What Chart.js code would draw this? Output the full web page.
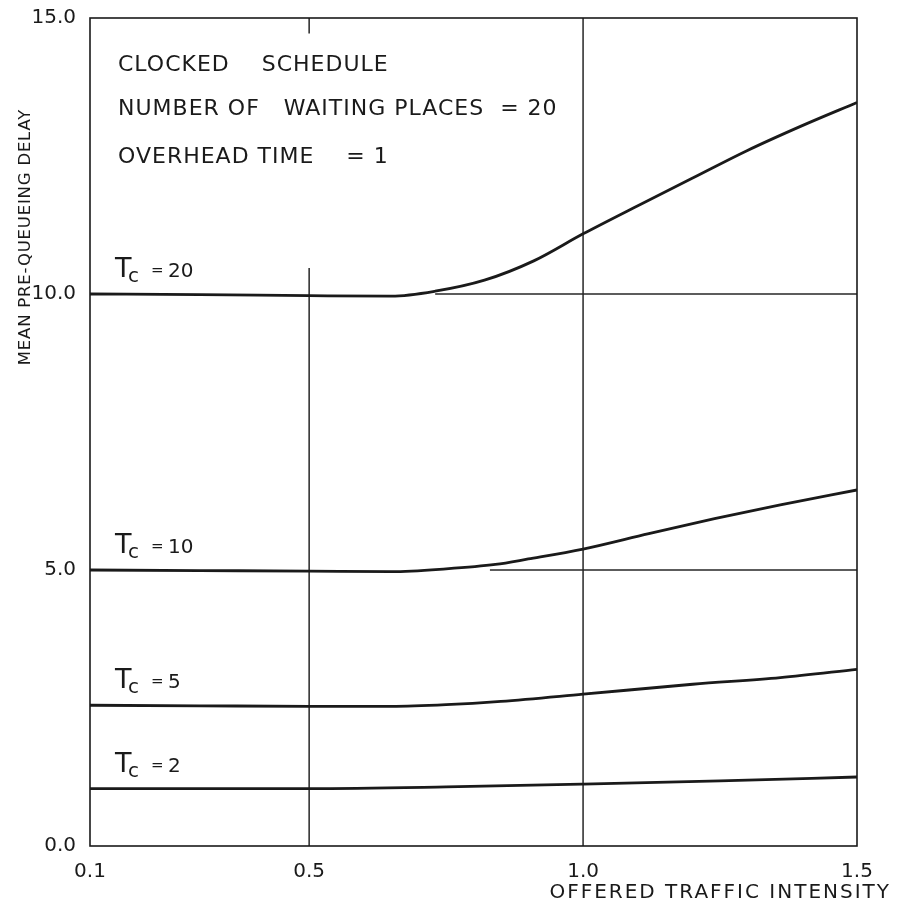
<!DOCTYPE html>
<html><head><meta charset="utf-8">
<script src="https://cdn.jsdelivr.net/npm/chart.js@4/dist/chart.umd.min.js"></script>
<style>html,body{margin:0;padding:0;background:#fff}canvas{display:block}</style>
</head><body>
<canvas id="c" width="909" height="912"></canvas>
<script>
// ---- data ----
const xTicks = [0.1, 0.5, 1.0, 1.5];
const yTicks = [0, 5, 10, 15];

const tcValues = [20, 10, 5, 2];

const tc20X = [0.1, 0.3, 0.5, 0.65, 0.73, 0.82, 0.91, 1.0, 1.1, 1.2, 1.3, 1.4, 1.5];
const tc20Y = [10.0, 9.99, 9.97, 9.96, 10.05, 10.25, 10.6, 11.09, 11.6, 12.1, 12.6, 13.05, 13.47];

const tc10X = [0.1, 0.3, 0.5, 0.65, 0.75, 0.84, 0.9, 1.0, 1.12, 1.24, 1.36, 1.5];
const tc10Y = [5.0, 4.99, 4.98, 4.97, 5.02, 5.1, 5.2, 5.38, 5.66, 5.93, 6.18, 6.45];

const tc5X = [0.1, 0.3, 0.5, 0.65, 0.75, 0.85, 1.0, 1.2, 1.36, 1.5];
const tc5Y = [2.55, 2.54, 2.53, 2.53, 2.56, 2.62, 2.75, 2.93, 3.05, 3.2];

const tc2X = [0.1, 0.5, 0.75, 1.0, 1.25, 1.5];
const tc2Y = [1.04, 1.04, 1.07, 1.12, 1.18, 1.25];

// reference (asymptote) lines and drawn guide lines
const ref10X = [0.73, 1.5];  const ref10Y = [10, 10];
const ref5X  = [0.83, 1.5];  const ref5Y  = [5, 5];
const guide05X = [0.5, 0.5]; const guide05Y = [0, 10.47];
const guide10X = [1.0, 1.0]; const guide10Y = [0, 15];
const topTickX = [0.5, 0.5]; const topTickY = [15, 14.72];

const annotationLines = ['CLOCKED    SCHEDULE', 'NUMBER OF   WAITING PLACES  = 20', 'OVERHEAD TIME    = 1'];
const xTitle = 'OFFERED TRAFFIC INTENSITY';
const yTitle = 'MEAN PRE-QUEUEING DELAY';

// ---- build ----
const INK = '#1a1a1a';
const FONT = 'DejaVu Sans';
const zip = (xs, ys) => xs.map((x, i) => ({x, y: ys[i]}));

const curve = (xs, ys) => ({data: zip(xs, ys), borderColor: INK, borderWidth: 2.8, pointRadius: 0,
  tension: 0.4, cubicInterpolationMode: 'monotone', fill: false});
const thin = (xs, ys) => ({data: zip(xs, ys), borderColor: '#262626', borderWidth: 1.5, pointRadius: 0,
  tension: 0, fill: false});

const curves = [[tc20X, tc20Y], [tc10X, tc10Y], [tc5X, tc5Y], [tc2X, tc2Y]];

const paperText = {
  id: 'paperText',
  afterDraw(chart) {
    const ctx = chart.ctx, a = chart.chartArea;
    const xs = chart.scales.x, ys = chart.scales.y;
    ctx.save();
    // frame
    ctx.strokeStyle = INK; ctx.lineWidth = 1.6;
    ctx.strokeRect(a.left, a.top, a.right - a.left, a.bottom - a.top);
    ctx.fillStyle = INK;
    ctx.textBaseline = 'alphabetic';
    ctx.textAlign = 'left';
    // annotation block
    ctx.letterSpacing = '1px';
    ctx.font = '22px "' + FONT + '"';
    const baselines = [71, 115, 163];
    annotationLines.forEach((t, i) => ctx.fillText(t, 118, baselines[i]));
    // T_c labels
    ctx.letterSpacing = '0px';
    tcValues.forEach((v, i) => {
      const x0 = xs.getPixelForValue(curves[i][0][0]) + 25;
      const b = ys.getPixelForValue(curves[i][1][0]) - 17;
      ctx.font = '27px "' + FONT + '"';
      ctx.fillText('T', x0, b);
      ctx.font = '20px "' + FONT + '"';
      ctx.fillText('c', x0 + 13, b + 5);
      ctx.font = '15px "' + FONT + '"';
      ctx.fillText('=', x0 + 36, b - 2);
      ctx.font = '20px "' + FONT + '"';
      ctx.fillText(String(v), x0 + 53, b);
    });
    // axis titles
    ctx.letterSpacing = '2px';
    ctx.font = '20px "' + FONT + '"';
    ctx.textAlign = 'right';
    ctx.fillText(xTitle, 891, 898);
    ctx.letterSpacing = '0.8px';
    ctx.font = '16.5px "' + FONT + '"';
    ctx.translate(30, 237);
    ctx.rotate(-Math.PI / 2);
    ctx.textAlign = 'center';
    ctx.fillText(yTitle, 0, 0);
    ctx.restore();
  }
};

new Chart(document.getElementById('c'), {
  type: 'line',
  data: {
    datasets: [
      ...curves.map(c => curve(c[0], c[1])),
      thin(ref10X, ref10Y), thin(ref5X, ref5Y),
      thin(guide05X, guide05Y), thin(guide10X, guide10Y), thin(topTickX, topTickY)
    ]
  },
  options: {
    responsive: false, animation: false, events: [],
    layout: {padding: {top: 18, right: 52, left: 0, bottom: 0}},
    plugins: {legend: {display: false}, tooltip: {enabled: false}, title: {display: false}},
    scales: {
      x: {
        type: 'linear', min: 0.1, max: 1.5,
        afterBuildTicks(s) { s.ticks = xTicks.map(v => ({value: v})); },
        afterFit(s) { s.height = 66; },
        ticks: {font: {family: FONT, size: 20}, color: INK, padding: 6, maxRotation: 0, autoSkip: false,
          callback: v => Number(v).toFixed(1)},
        grid: {display: false}, border: {display: false}
      },
      y: {
        type: 'linear', min: 0, max: 15,
        afterBuildTicks(s) { s.ticks = yTicks.map(v => ({value: v})); },
        afterFit(s) { s.width = 90; },
        ticks: {font: {family: FONT, size: 20}, color: INK, padding: 6,
          callback: v => Number(v).toFixed(1)},
        grid: {display: false}, border: {display: false}
      }
    }
  },
  plugins: [paperText]
});
</script>
</body></html>
